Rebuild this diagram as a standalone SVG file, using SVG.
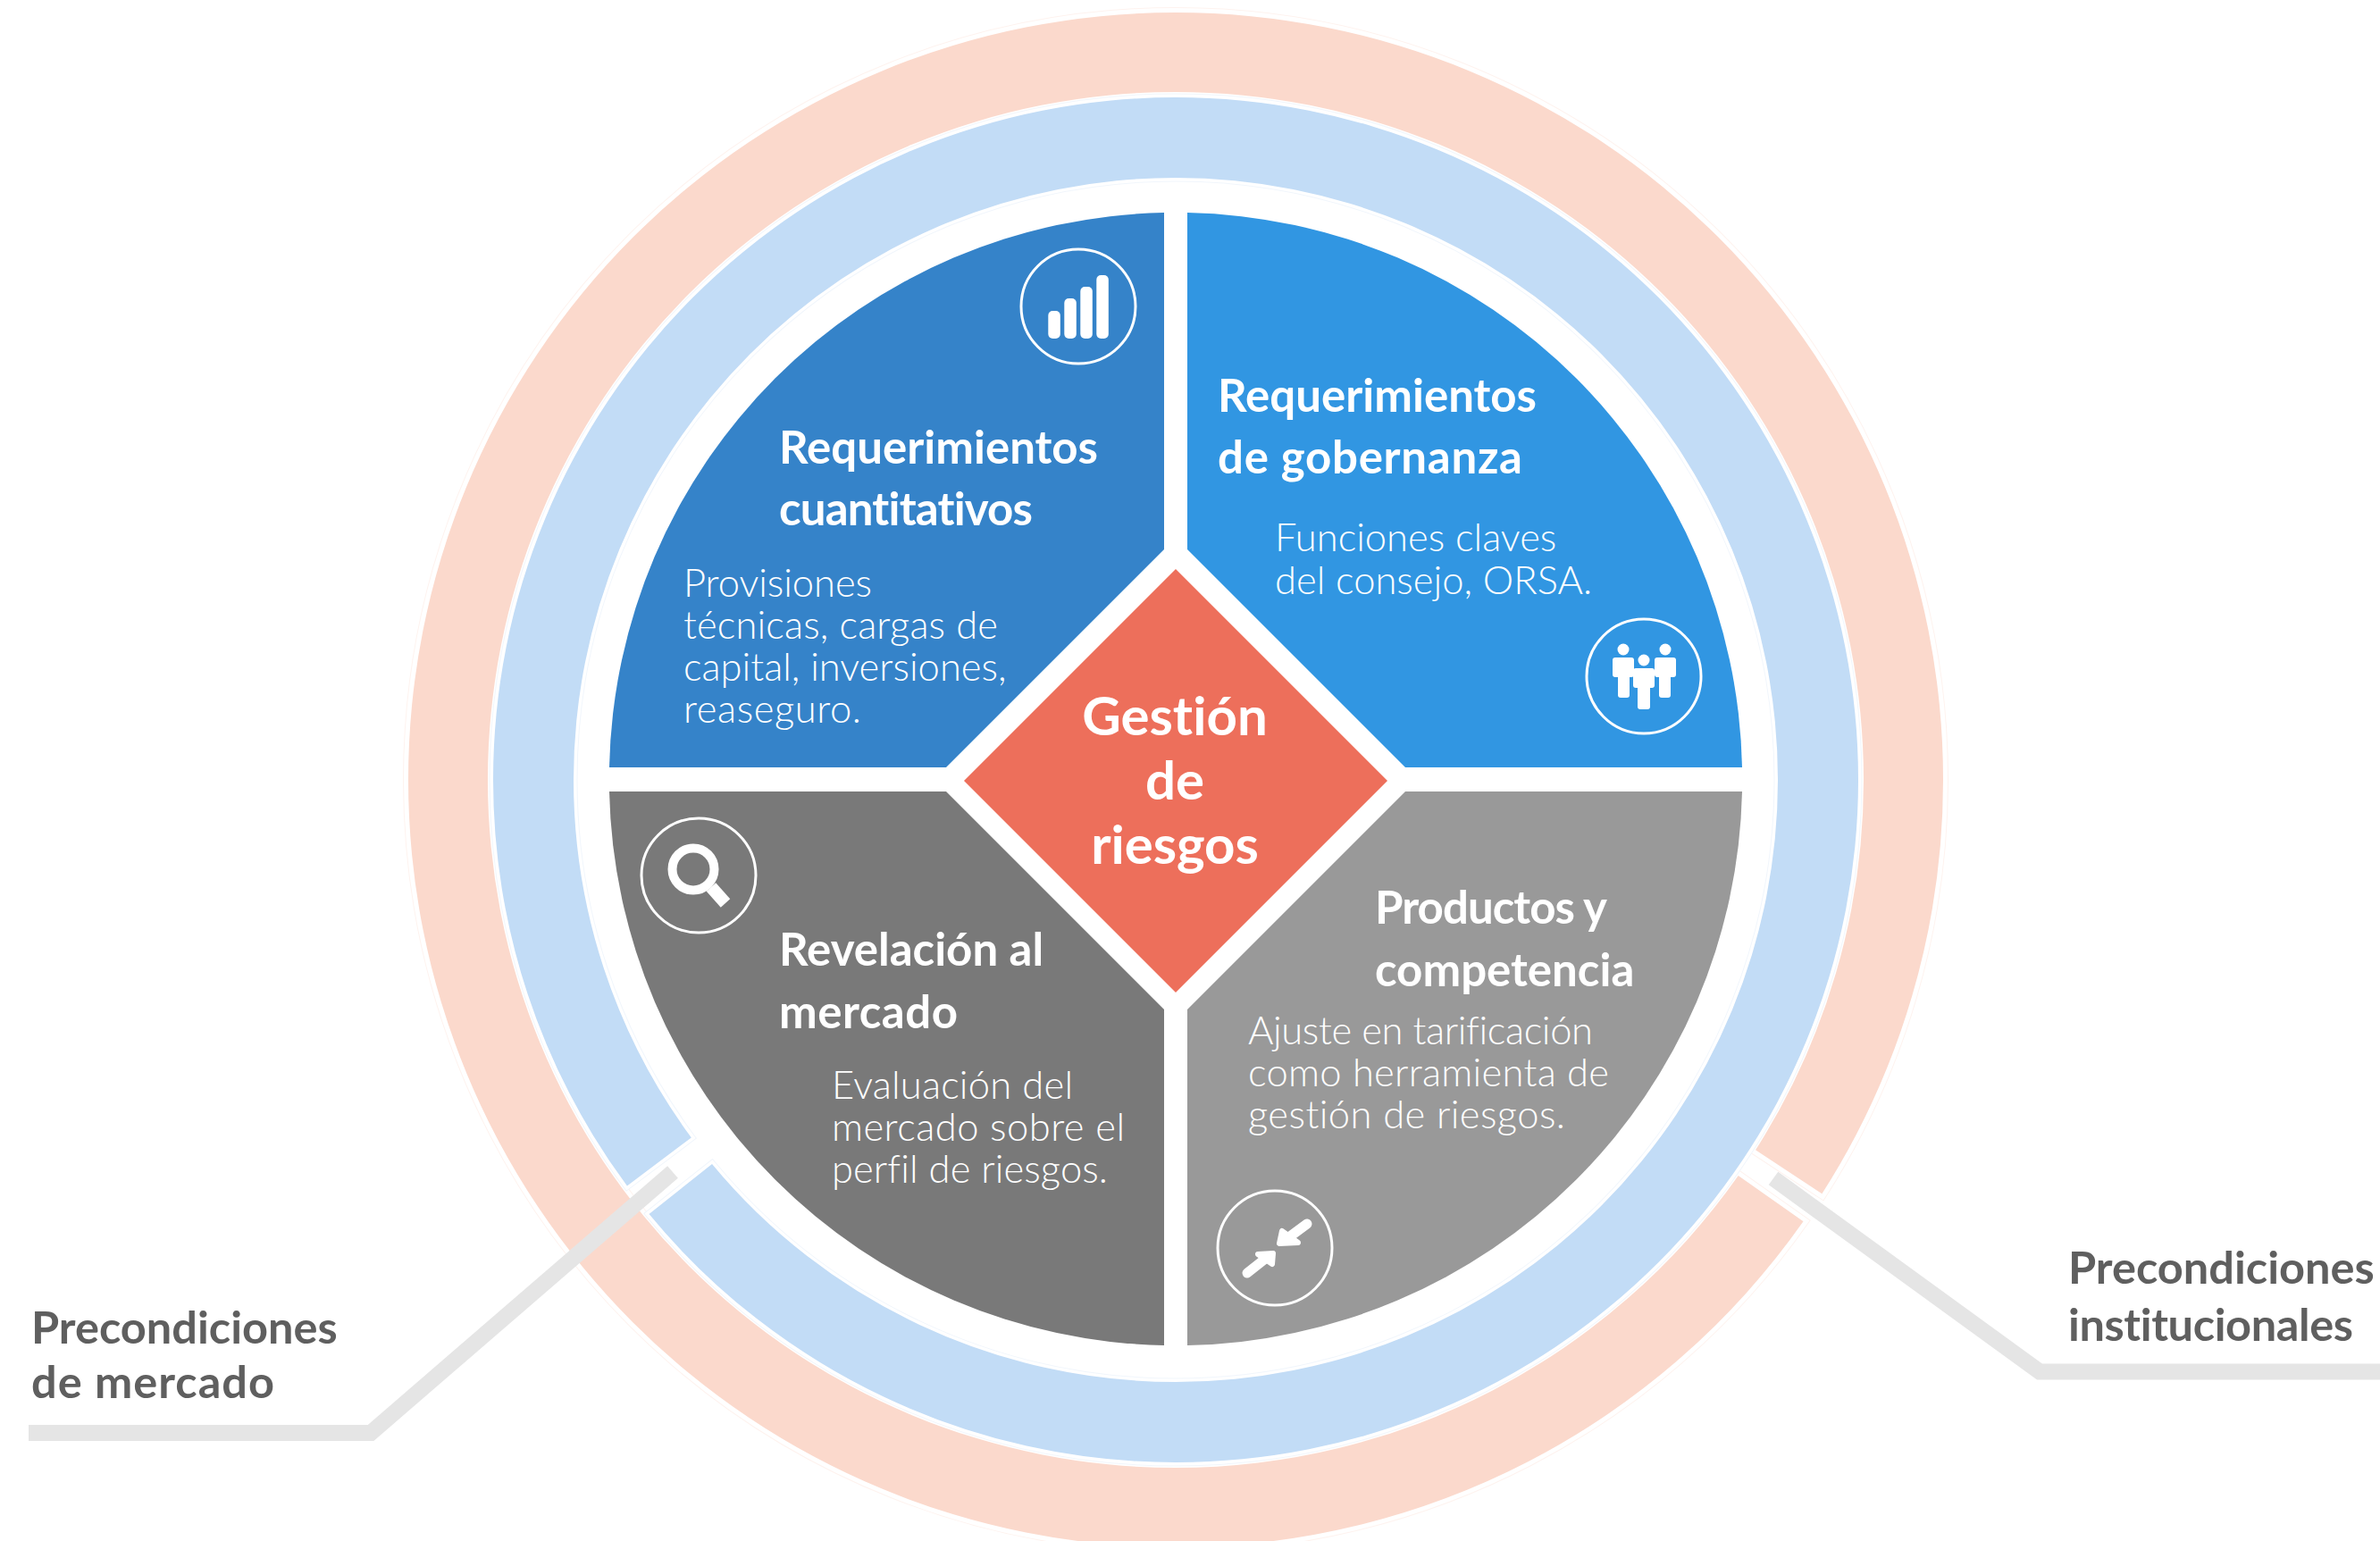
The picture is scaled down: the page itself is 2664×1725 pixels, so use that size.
<svg xmlns="http://www.w3.org/2000/svg" width="2664" height="1725" viewBox="0 0 2664 1725">
<style>
text{font-family:"Lato","Open Sans","Liberation Sans",sans-serif;font-variant-ligatures:none}
.t{font-size:51px;font-weight:700;fill:#fff}
.b{font-size:43.500px;font-weight:300;fill:#fff}
.c{font-size:60px;font-weight:700;fill:#fff;text-anchor:middle}
.l{font-size:50.500px;font-weight:700;fill:#5f5f5f}
.ic{fill:none;stroke:#fff;stroke-width:3}
.w{fill:#fff}
.halo{fill:none;stroke-linejoin:miter}
</style>
<defs>
<path id="oring" d="M2039.39 1336.25A859 859 0 0 0 2175 873A859 859 0 0 0 1316 14A859 859 0 0 0 457 873A859 859 0 0 0 1316 1732A859 859 0 0 0 2018.5 1367.35L1945.72 1316.1A770 770 0 0 1 1316 1643A770 770 0 0 1 546 873A770 770 0 0 1 1316 103A770 770 0 0 1 2086 873A770 770 0 0 1 1965 1287.37Z"/>
<path id="bring" d="M701.93 1327.53A764 764 0 0 1 552 873A764 764 0 0 1 1316 109A764 764 0 0 1 2080 873A764 764 0 0 1 1316 1637A764 764 0 0 1 726.53 1359.04L797 1303A674 674 0 0 0 1316 1547A674 674 0 0 0 1990 873A674 674 0 0 0 1316 199A674 674 0 0 0 642 873A674 674 0 0 0 773.82 1273.39Z"/>
</defs>
<rect width="2664" height="1725" fill="#fff"/>
<g id="ring-institucional">
<use href="#oring" class="halo" stroke="#fef3ef" stroke-width="12"/>
<use href="#oring" class="halo" stroke="#fff" stroke-width="10"/>
<use href="#oring" fill="#fbd9cc"/>
</g>
<g id="ring-mercado">
<use href="#bring" class="halo" stroke="#f1f6fc" stroke-width="9"/>
<use href="#bring" class="halo" stroke="#fff" stroke-width="7"/>
<use href="#bring" fill="#c2dcf6"/>
</g>
<g id="q-cuantitativos">
<path d="M1303 615V238A634 634 0 0 0 682 859H1059Z" fill="#3583c9"/>
<circle class="ic" cx="1207" cy="343" r="64"/>
<rect class="w" x="1173.300" y="348" width="13.500" height="31" rx="5"/>
<rect class="w" x="1191.300" y="334" width="13.500" height="45" rx="5"/>
<rect class="w" x="1209.300" y="321" width="13.500" height="58" rx="5"/>
<rect class="w" x="1227.300" y="308" width="13.500" height="71" rx="5"/>
<text class="t" x="872" y="518.500">Requerimientos</text>
<text class="t" x="872" y="588" textLength="284">cuantitativos</text>
<text class="b" x="765" y="668" textLength="211">Provisiones</text>
<text class="b" x="765" y="715" textLength="352">técnicas, cargas de</text>
<text class="b" x="765" y="762">capital, inversiones,</text>
<text class="b" x="765" y="809" textLength="199">reaseguro.</text>
</g>
<g id="q-gobernanza">
<path d="M1329 615V238A634 634 0 0 1 1950 859H1573Z" fill="#3196e2"/>
<circle class="ic" cx="1840" cy="757" r="64"/>
<g class="w">
<circle cx="1817" cy="727" r="6.500"/><rect x="1805" y="736" width="24" height="22" rx="3"/><rect x="1811" y="750" width="13" height="31" rx="3"/>
<circle cx="1864" cy="727" r="6.500"/><rect x="1852" y="736" width="24" height="22" rx="3"/><rect x="1857" y="750" width="13" height="31" rx="3"/>
<circle cx="1840" cy="739" r="6.500"/><rect x="1828" y="748" width="24" height="22" rx="3"/><rect x="1833" y="762" width="14" height="32" rx="3"/>
</g>
<text class="t" x="1363" y="460.500">Requerimientos</text>
<text class="t" x="1363" y="529.500" textLength="341">de gobernanza</text>
<text class="b" x="1427" y="617">Funciones claves</text>
<text class="b" x="1427" y="664.500">del consejo, ORSA.</text>
</g>
<g id="q-revelacion">
<path d="M1303 1130V1506A634 634 0 0 1 682 886H1059Z" fill="#797979"/>
<circle class="ic" cx="782" cy="980" r="64"/>
<circle cx="776" cy="973" r="23.500" fill="none" stroke="#fff" stroke-width="10"/>
<path d="M796 993L812 1011" stroke="#fff" stroke-width="14" fill="none"/>
<text class="t" x="872" y="1080.500">Revelación al</text>
<text class="t" x="872" y="1150.500" textLength="200">mercado</text>
<text class="b" x="931" y="1230" textLength="270">Evaluación del</text>
<text class="b" x="931" y="1277" textLength="328">mercado sobre el</text>
<text class="b" x="931" y="1324" textLength="309">perfil de riesgos.</text>
</g>
<g id="q-productos">
<path d="M1329 1130V1506A634 634 0 0 0 1950 886H1573Z" fill="#999"/>
<circle class="ic" cx="1427" cy="1397" r="64"/>
<g fill="#fff" stroke="#fff" stroke-linejoin="round" stroke-linecap="round">
<path d="M1463 1370L1440 1387" stroke-width="11" fill="none"/>
<path d="M1435 1378L1432 1392L1453 1391Z" stroke-width="6"/>
<path d="M1396 1425L1415 1410" stroke-width="11" fill="none"/>
<path d="M1425 1403L1408 1404L1424 1415Z" stroke-width="6"/>
</g>
<text class="t" x="1539" y="1033.500" textLength="260">Productos y</text>
<text class="t" x="1539" y="1103.500">competencia</text>
<text class="b" x="1397" y="1169" textLength="386">Ajuste en tarificación</text>
<text class="b" x="1397" y="1216" textLength="404">como herramienta de</text>
<text class="b" x="1397" y="1263" textLength="355">gestión de riesgos.</text>
</g>
<g id="centro">
<path d="M1316 637L1553 874L1316 1111L1079 874Z" fill="#ed6f5b"/>
<text class="c" x="1315" y="823">Gestión</text>
<text class="c" x="1315" y="895">de</text>
<text class="c" x="1315" y="967">riesgos</text>
</g>
<g id="connectors" fill="none" stroke="#e5e5e5" stroke-width="18">
<path d="M753 1312L415 1604H32"/>
<path d="M1985 1319L2283 1535.500H2664"/>
</g>
<g id="label-mercado">
<text class="l" x="35" y="1504">Precondiciones</text>
<text class="l" x="35" y="1565" textLength="272">de mercado</text>
</g>
<g id="label-institucional">
<text class="l" x="2315" y="1437">Precondiciones</text>
<text class="l" x="2315" y="1501" textLength="319">institucionales</text>
</g>
</svg>
